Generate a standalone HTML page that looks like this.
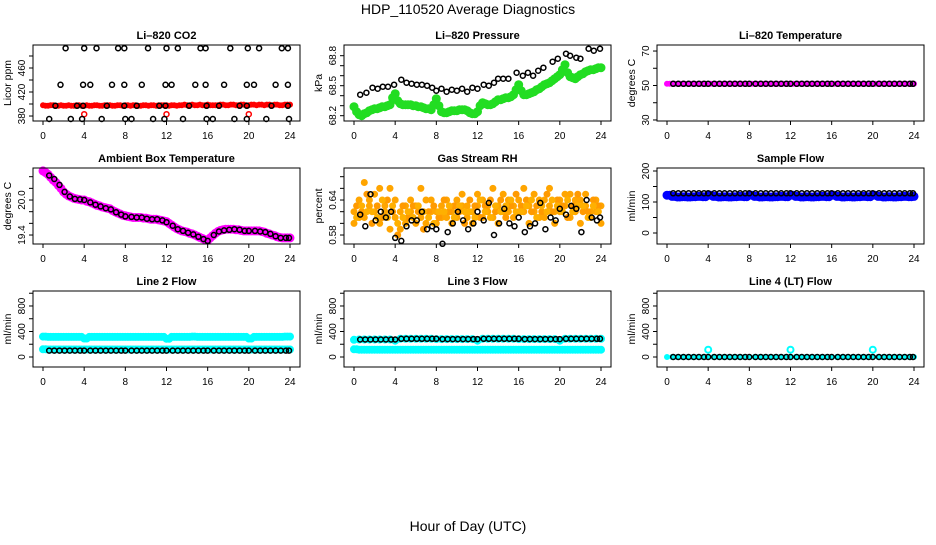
<!DOCTYPE html>
<html><head><meta charset="utf-8"><style>
body{margin:0;background:#fff}
svg text{font-family:"Liberation Sans",sans-serif}
</style></head><body>
<svg id="c" xmlns="http://www.w3.org/2000/svg" width="936" height="540" viewBox="0 0 936 540">
<rect width="936" height="540" fill="#fff"/>
<text x="468" y="14" font-size="14" text-anchor="middle">HDP_110520  Average Diagnostics</text>
<text x="468" y="531" font-size="14" text-anchor="middle">Hour of Day (UTC)</text>
</svg>
<script>
// ---- shared categories ----
const T = [0,0.5,1,1.5,2,2.5,3,3.5,4,4.5,5,5.5,6,6.5,7,7.5,8,8.5,9,9.5,10,10.5,11,11.5,12,12.5,13,13.5,14,14.5,15,15.5,16,16.5,17,17.5,18,18.5,19,19.5,20,20.5,21,21.5,22,22.5,23,23.5,24];
const BT = [0.6,1.1,1.6,2.1,2.6,3.1,3.6,4.0,4.6,5.1,5.6,6.1,6.6,7.1,7.6,8.0,8.6,9.1,9.6,10.1,10.6,11.1,11.6,12.0,12.6,13.1,13.6,14.1,14.6,15.1,15.6,16.0,16.6,17.1,17.6,18.1,18.6,19.1,19.6,20.0,20.6,21.1,21.6,22.1,22.6,23.1,23.6,23.9];
const TQ = [0.25,0.75,1.25,1.75,2.25,2.75,3.25,3.75,4.25,4.75,5.25,5.75,6.25,6.75,7.25,7.75,8.25,8.75,9.25,9.75,10.25,10.75,11.25,11.75,12.25,12.75,13.25,13.75,14.25,14.75,15.25,15.75,16.25,16.75,17.25,17.75,18.25,18.75,19.25,19.75,20.25,20.75,21.25,21.75,22.25,22.75,23.25,23.75];
const xTicks = [0,4,8,12,16,20,24];

// ---- CO2 ----
const co2BlackT = [2.2,4.0,5.2,7.3,7.9,10.2,12.0,13.1,15.3,15.8,18.2,19.9,21.0,23.2,23.8, 1.7,3.9,4.6,6.7,7.9,9.6,11.9,12.5,14.8,15.8,17.6,19.8,20.5,22.6,23.8, 1.2,3.3,3.9,6.2,7.9,9.1,11.3,11.9,14.2,15.9,17.1,19.1,19.8,22.2,23.8, 0.6,2.7,3.8,5.7,8.0,8.6,10.7,11.8,13.6,15.9,16.5,18.6,19.8,21.7,23.9];
const co2BlackV = [493,493,493,493,493,493,493,493,493,493,493,493,493,493,493, 432,432,432,432,432,432,432,432,432,432,432,432,432,432,432, 397,397,397,397,397,397,397,397,397,397,397,397,397,397,397, 375,375,375,375,375,375,375,375,375,375,375,375,375,375,375];
const co2Red = [398,397,398,397,397,398,397,398,397,397,398,397,398,398,397,398,398,397,398,397,398,398,397,398,398,398,397,398,398,399,398,398,399,398,398,399,398,399,398,399,398,399,399,398,399,399,398,399,399];
const co2RedQ = [397,398,397,398,397,397,398,397,398,397,398,397,398,397,398,397,398,398,397,398,397,398,398,398,397,398,398,399,398,398,399,398,398,398,399,398,399,398,399,398,399,398,399,399,398,399,398,399];
const co2RedCircT = [4.0,12.0,20.0];
const co2RedCircV = [383,383,383];

// ---- Pressure ----
const presGreen = [68.29,68.21,68.22,68.25,68.27,68.28,68.29,68.31,68.42,68.32,68.31,68.31,68.30,68.29,68.27,68.26,68.37,68.24,68.23,68.25,68.25,68.26,68.25,68.22,68.24,68.33,68.31,68.32,68.36,68.37,68.38,68.41,68.51,68.41,68.42,68.44,68.47,68.51,68.53,68.57,68.61,68.71,68.59,68.57,68.61,68.64,68.66,68.67,68.68];
const presGreenQ = [68.24,68.20,68.23,68.26,68.27,68.29,68.30,68.38,68.35,68.31,68.31,68.30,68.29,68.28,68.27,68.31,68.30,68.23,68.24,68.25,68.26,68.26,68.23,68.22,68.30,68.32,68.31,68.34,68.36,68.38,68.39,68.46,68.45,68.41,68.43,68.46,68.49,68.52,68.55,68.59,68.66,68.63,68.58,68.59,68.62,68.65,68.66,68.68];
const presBlackT = [0.6,1.2,1.8,2.3,2.8,3.3,3.9,4.6,5.1,5.6,6.1,6.6,7.1,7.6,8.0,8.5,9.0,9.5,10.0,10.5,11.0,11.5,12.0,12.6,13.1,13.6,14.0,14.5,15.0,15.8,16.4,16.9,17.4,17.9,18.4,19.3,19.8,20.6,21.0,21.6,22.0,22.8,23.3,23.9];
const presBlackV = [68.41,68.43,68.48,68.47,68.49,68.49,68.51,68.56,68.53,68.52,68.51,68.51,68.50,68.48,68.45,68.47,68.44,68.46,68.45,68.47,68.44,68.48,68.47,68.51,68.50,68.53,68.57,68.57,68.57,68.63,68.60,68.63,68.60,68.65,68.68,68.74,68.77,68.82,68.80,68.78,68.77,68.87,68.85,68.87];

// ---- Li-820 temperature ----
const liTempMag = [51,51,51,51,51,51,51,51,51,51,51,51,51,51,51,51,51,51,51,51,51,51,51,51,51,51,51,51,51,51,51,51,51,51,51,51,51,51,51,51,51,51,51,51,51,51,51,51,51];
const liTempBlack = [51,51,51,51,51,51,51,51,51,51,51,51,51,51,51,51,51,51,51,51,51,51,51,51,51,51,51,51,51,51,51,51,51,51,51,51,51,51,51,51,51,51,51,51,51,51,51,51];

// ---- Ambient box temperature ----
const ambMag = [20.50,20.44,20.34,20.25,20.14,20.07,20.03,20.01,20.00,19.97,19.93,19.90,19.87,19.85,19.80,19.76,19.73,19.71,19.70,19.70,19.69,19.67,19.67,19.65,19.63,19.57,19.51,19.47,19.45,19.42,19.38,19.34,19.31,19.39,19.46,19.49,19.50,19.50,19.49,19.47,19.47,19.47,19.47,19.45,19.42,19.39,19.36,19.35,19.35];
const ambMagQ = [20.47,20.39,20.30,20.20,20.10,20.05,20.02,20.00,19.98,19.95,19.91,19.88,19.86,19.82,19.78,19.74,19.72,19.70,19.70,19.69,19.68,19.67,19.66,19.64,19.60,19.54,19.49,19.46,19.43,19.40,19.36,19.32,19.35,19.43,19.48,19.50,19.50,19.49,19.48,19.47,19.47,19.47,19.46,19.43,19.40,19.37,19.35,19.35];
const ambBlack = [20.42,20.36,20.26,20.14,20.06,20.02,20.01,20.00,19.96,19.92,19.89,19.86,19.84,19.79,19.75,19.72,19.71,19.70,19.70,19.68,19.67,19.67,19.65,19.62,19.56,19.50,19.47,19.44,19.41,19.37,19.33,19.30,19.40,19.46,19.48,19.49,19.50,19.49,19.47,19.47,19.47,19.46,19.45,19.42,19.38,19.35,19.35,19.35];

// ---- Gas stream RH ----
const rhA = [0.62,0.64,0.61,0.63,0.65,0.60,0.62,0.66,0.61,0.59,0.63,0.62,0.60,0.61,0.64,0.62,0.60,0.63,0.61,0.62,0.64,0.63,0.61,0.62,0.63,0.64,0.62,0.61,0.63,0.65,0.62,0.63,0.64,0.62,0.63,0.65,0.61,0.64,0.63,0.62,0.64,0.63,0.65,0.62,0.64,0.63,0.62,0.64,0.63];
const rhB = [0.60,0.61,0.67,0.64,0.62,0.66,0.63,0.59,0.64,0.62,0.60,0.64,0.63,0.66,0.60,0.64,0.62,0.61,0.64,0.60,0.61,0.65,0.63,0.60,0.65,0.61,0.63,0.66,0.60,0.62,0.64,0.61,0.62,0.66,0.60,0.62,0.64,0.61,0.66,0.60,0.62,0.65,0.61,0.64,0.60,0.65,0.61,0.62,0.60];
const rhC = [0.63,0.62,0.65,0.60,0.63,0.61,0.64,0.62,0.58,0.63,0.61,0.63,0.62,0.59,0.62,0.63,0.61,0.64,0.62,0.63,0.62,0.60,0.64,0.63,0.61,0.63,0.64,0.62,0.64,0.61,0.63,0.65,0.63,0.64,0.62,0.63,0.62,0.65,0.62,0.64,0.63,0.61,0.63,0.65,0.62,0.62,0.64,0.63];
const rhD = [0.61,0.63,0.62,0.62,0.61,0.64,0.61,0.63,0.60,0.61,0.62,0.61,0.63,0.62,0.61,0.60,0.62,0.62,0.63,0.61,0.63,0.62,0.62,0.61,0.64,0.62,0.61,0.63,0.62,0.63,0.64,0.62,0.62,0.63,0.64,0.61,0.63,0.62,0.64,0.63,0.62,0.64,0.62,0.63,0.63,0.61,0.63,0.62];
const rhBlack = [0.615,0.595,0.65,0.605,0.62,0.61,0.62,0.575,0.57,0.595,0.605,0.605,0.62,0.59,0.595,0.59,0.565,0.585,0.60,0.62,0.605,0.59,0.60,0.62,0.605,0.635,0.58,0.60,0.625,0.60,0.595,0.61,0.585,0.595,0.60,0.635,0.59,0.61,0.605,0.625,0.615,0.63,0.625,0.585,0.64,0.61,0.605,0.61];

// ---- Sample flow ----
const sfBlue = [122,118,116,117,116,117,118,117,122,118,116,117,116,117,118,117,122,118,116,117,116,117,118,117,122,118,116,117,116,117,118,117,122,118,116,117,116,117,118,117,122,118,116,117,116,117,118,117,118];
const sfBlack = [128,128,128,128,128,128,128,128,128,128,128,128,128,128,128,128,128,128,128,128,128,128,128,128,128,128,128,128,128,128,128,128,128,128,128,128,128,128,128,128,128,128,128,128,128,128,128,128];

// ---- Line 2 ----
const l2High = [320,315,315,315,315,315,315,315,290,315,315,315,315,315,315,315,315,315,315,315,315,315,315,315,285,315,315,315,315,320,315,315,315,315,315,315,315,315,315,315,290,315,315,315,315,315,315,320,320];
const l2Low = [120,118,118,118,118,118,118,118,118,118,118,118,118,118,118,118,118,118,118,118,118,118,118,118,118,118,118,118,118,118,118,118,118,118,118,118,118,118,118,118,118,118,118,118,118,118,118,118,118];
const l2Black = [100,100,100,100,100,100,100,100,100,100,100,100,100,100,100,100,100,100,100,100,100,100,100,100,100,100,100,100,100,100,100,100,100,100,100,100,100,100,100,100,100,100,100,100,100,100,100,100];

// ---- Line 3 ----
const l3High = [270,275,275,275,275,275,275,275,255,285,285,285,285,285,285,285,280,280,280,280,280,280,280,280,255,285,285,285,285,285,285,285,280,280,280,280,280,280,280,280,255,285,285,285,285,285,285,285,285];
const l3Low = [120,115,115,115,115,115,115,115,115,115,115,115,115,115,115,115,115,115,115,115,115,115,115,115,115,115,115,115,115,115,115,115,115,115,115,115,115,115,115,115,115,115,115,115,115,115,115,115,115];
const l3Black = [275,275,275,275,275,275,275,275,285,285,285,285,285,285,285,285,280,280,280,280,280,280,280,280,285,285,285,285,285,285,285,285,280,280,280,280,280,280,280,280,285,285,285,285,285,285,285,285];

// ---- Line 4 ----
const l4Cyan = [0,0,0,0,0,0,0,0,0,0,0,0,0,0,0,0,0,0,0,0,0,0,0,0,0,0,0,0,0,0,0,0,0,0,0,0,0,0,0,0,0,0,0,0,0,0,0,0,0];
const l4CircT = [4.0,12.0,20.0];
const l4CircV = [115,115,115];
const l4Black = [0,0,0,0,0,0,0,0,0,0,0,0,0,0,0,0,0,0,0,0,0,0,0,0,0,0,0,0,0,0,0,0,0,0,0,0,0,0,0,0,0,0,0,0,0,0,0,0];

const svg = document.getElementById('c');
const NS = 'http://www.w3.org/2000/svg';
function mk(tag, attrs, parent){const e=document.createElementNS(NS,tag);for(const k in attrs)e.setAttribute(k,attrs[k]);(parent||svg).appendChild(e);return e;}

const W=267,H=76;
function panel(p){
  const g = mk('g',{});
  
  
  const xs = h => p.L + 10 + h*247/24;
  const ys = v => p.T + H - (v - p.ymin)/(p.ymax - p.ymin)*H;
  const title = mk('text',{x:p.L+W/2,y:p.T-6,'font-size':11,'font-weight':'bold','text-anchor':'middle'},g);
  title.textContent = p.title;
  
  
  const yl = mk('text',{x:0,y:0,'font-size':10.5,'text-anchor':'middle',transform:`translate(${p.L-22},${p.T+H/2}) rotate(-90)`},g);
  yl.textContent = p.ylab;
  
  
  const plotG = mk('g',{},g);
  
  
  p.series.forEach(s=>{
    s.t.forEach((t,i)=>{
      const v=s.v[i]; if(v===undefined) return;
      const c = mk('circle',{cx:xs(t).toFixed(1),cy:ys(v).toFixed(1),r:s.r,fill:s.f?s.c:'none',stroke:s.c,'stroke-width':s.w},plotG);
      
      
    });
  });
  const box = mk('rect',{x:p.L,y:p.T,width:W,height:H,fill:'none',stroke:'#000','stroke-width':1},g);
  
  
  mk('line',{x1:xs(0),x2:xs(24),y1:p.T+H,y2:p.T+H,stroke:'#000'},g);
  xTicks.forEach(t=>{
    mk('line',{x1:xs(t),x2:xs(t),y1:p.T+H,y2:p.T+H+4,stroke:'#000'},g);
    const tx = mk('text',{x:xs(t),y:p.T+H+18,'font-size':10,'text-anchor':'middle'},g);
    tx.textContent = t;
    
    
  });
  p.yticks.forEach(v=>{
    mk('line',{x1:p.L-4,x2:p.L,y1:ys(v),y2:ys(v),stroke:'#000'},g);
  });
  p.ylabels.forEach(v=>{
    const ty = mk('text',{x:0,y:0,'font-size':10,'text-anchor':'middle',transform:`translate(${p.L-8},${ys(v)}) rotate(-90)`},g);
    ty.textContent = v;
    
    
  });
}

const C1=33,C2=344,C3=657,R1=45,R2=168,R3=291;
panel({name:'co2-panel',L:C1,T:R1,ymin:371.7,ymax:498.3,title:'Li\u2013820 CO2',ylab:'Licor ppm',yticks:[380,400,420,440,460,480],ylabels:[380,420,460],
 series:[{name:'co2-red-point',t:T,v:co2Red,c:'#ff0000',r:2.5,w:1,f:1},{name:'co2-red-point',t:TQ,v:co2RedQ,c:'#ff0000',r:2.5,w:1,f:1},{name:'co2-red-outlier',t:co2RedCircT,v:co2RedCircV,c:'#ff0000',r:2.5,w:1.5},{name:'co2-black-point',t:co2BlackT,v:co2BlackV,c:'#000',r:2.5,w:1.5}]});
panel({name:'pressure-panel',L:C2,T:R1,ymin:68.147,ymax:68.907,title:'Li\u2013820 Pressure',ylab:'kPa',yticks:[68.2,68.3,68.4,68.5,68.6,68.7,68.8],ylabels:['68.2','68.5','68.8'],
 series:[{name:'pressure-green-point',t:T,v:presGreen,c:'#22dd22',r:4,w:1,f:1},{name:'pressure-green-point',t:TQ,v:presGreenQ,c:'#22dd22',r:4,w:1,f:1},{name:'pressure-black-point',t:presBlackT,v:presBlackV,c:'#000',r:2.5,w:1.5}]});
panel({name:'li-temp-panel',L:C3,T:R1,ymin:29.4,ymax:73.5,title:'Li\u2013820 Temperature',ylab:'degrees C',yticks:[30,40,50,60,70],ylabels:[30,50,70],
 series:[{name:'li-temp-magenta-point',t:T,v:liTempMag,c:'#ff00ff',r:2.5,w:1,f:1},{name:'li-temp-magenta-point',t:TQ,v:liTempMag,c:'#ff00ff',r:2.5,w:1,f:1},{name:'li-temp-black-point',t:BT,v:liTempBlack,c:'#000',r:2.5,w:1.5}]});
panel({name:'ambient-temp-panel',L:C1,T:R2,ymin:19.246,ymax:20.549,title:'Ambient Box Temperature',ylab:'degrees C',yticks:[19.4,19.6,19.8,20.0,20.2,20.4],ylabels:['19.4','20.0'],
 series:[{name:'ambient-magenta-point',t:T,v:ambMag,c:'#ff00ff',r:4,w:1,f:1},{name:'ambient-magenta-point',t:TQ,v:ambMagQ,c:'#ff00ff',r:4,w:1,f:1},{name:'ambient-black-point',t:BT,v:ambBlack,c:'#000',r:2.5,w:1.5}]});
panel({name:'rh-panel',L:C2,T:R2,ymin:0.5646,ymax:0.6949,title:'Gas Stream RH',ylab:'percent',yticks:[0.58,0.60,0.62,0.64,0.66,0.68],ylabels:['0.58','0.64'],
 series:[{name:'rh-orange-point',t:T,v:rhA,c:'#ffa500',r:3,w:1,f:1},{name:'rh-orange-point',t:T,v:rhB,c:'#ffa500',r:3,w:1,f:1},{name:'rh-orange-point',t:TQ,v:rhC,c:'#ff9a00',r:3,w:1,f:1},{name:'rh-orange-point',t:TQ,v:rhD,c:'#ffb000',r:3,w:1,f:1},{name:'rh-black-point',t:BT,v:rhBlack,c:'#000',r:2.5,w:1.5}]});
panel({name:'sample-flow-panel',L:C3,T:R2,ymin:-35.5,ymax:209.7,title:'Sample Flow',ylab:'ml/min',yticks:[0,50,100,150,200],ylabels:[0,100,200],
 series:[{name:'sample-flow-blue-point',t:T,v:sfBlue,c:'#0000ff',r:4,w:1,f:1},{name:'sample-flow-blue-point',t:TQ,v:sfBlue,c:'#0000ff',r:4,w:1,f:1},{name:'sample-flow-black-point',t:BT,v:sfBlack,c:'#000',r:2.5,w:1.5}]});
panel({name:'line2-flow-panel',L:C1,T:R3,ymin:-157,ymax:1035,title:'Line 2 Flow',ylab:'ml/min',yticks:[0,200,400,600,800,1000],ylabels:[0,400,800],
 series:[{name:'line2-cyan-high-point',t:T,v:l2High,c:'#00ffff',r:3.5,w:1,f:1},{name:'line2-cyan-high-point',t:TQ,v:l2High,c:'#00ffff',r:3.5,w:1,f:1},{name:'line2-cyan-low-point',t:T,v:l2Low,c:'#00ffff',r:3.5,w:1,f:1},{name:'line2-cyan-low-point',t:TQ,v:l2Low,c:'#00ffff',r:3.5,w:1,f:1},{name:'line2-black-point',t:BT,v:l2Black,c:'#000',r:2.5,w:1.5}]});
panel({name:'line3-flow-panel',L:C2,T:R3,ymin:-157,ymax:1035,title:'Line 3 Flow',ylab:'ml/min',yticks:[0,200,400,600,800,1000],ylabels:[0,400,800],
 series:[{name:'line3-cyan-high-point',t:T,v:l3High,c:'#00ffff',r:3.5,w:1,f:1},{name:'line3-cyan-low-point',t:T,v:l3Low,c:'#00ffff',r:3.5,w:1,f:1},{name:'line3-cyan-low-point',t:TQ,v:l3Low,c:'#00ffff',r:3.5,w:1,f:1},{name:'line3-black-point',t:BT,v:l3Black,c:'#000',r:2.5,w:1.5}]});
panel({name:'line4-flow-panel',L:C3,T:R3,ymin:-157,ymax:1035,title:'Line 4 (LT) Flow',ylab:'ml/min',yticks:[0,200,400,600,800,1000],ylabels:[0,400,800],
 series:[{name:'line4-cyan-point',t:T,v:l4Cyan,c:'#00ffff',r:2.5,w:1,f:1},{name:'line4-cyan-outlier',t:l4CircT,v:l4CircV,c:'#00ffff',r:3,w:2},{name:'line4-black-point',t:BT,v:l4Black,c:'#000',r:2.5,w:1.5}]});
</script>
</body></html>
